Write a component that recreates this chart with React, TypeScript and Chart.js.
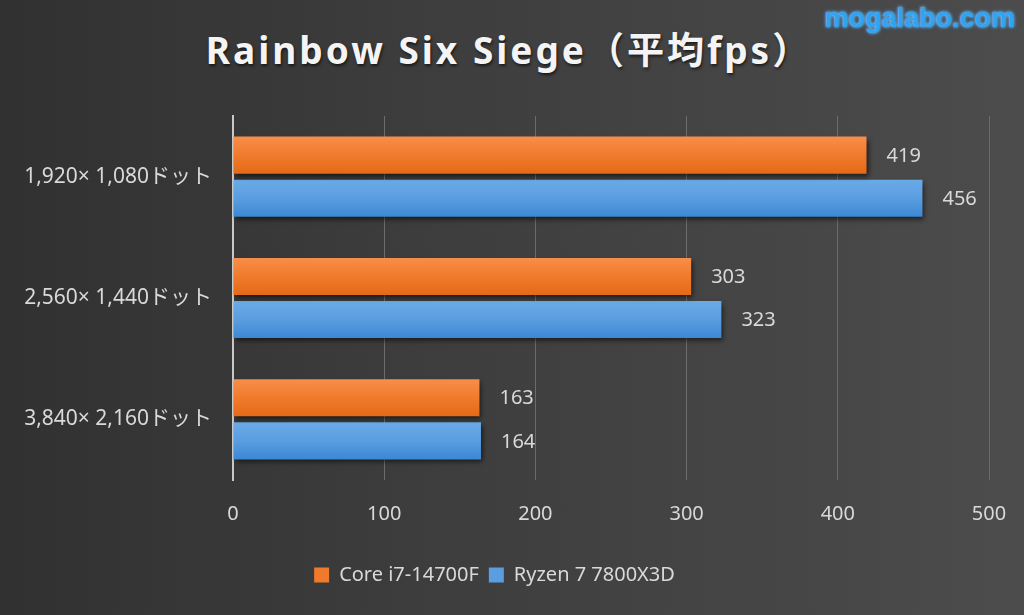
import React, { useEffect, useRef } from "react";
import { Chart, registerables } from "chart.js";

Chart.register(...registerables);

const categories = ["1,920× 1,080ドット", "2,560× 1,440ドット", "3,840× 2,160ドット"];
const seriesNames = ["Core i7-14700F", "Ryzen 7 7800X3D"];
const coreValues = [419, 303, 163];
const ryzenValues = [456, 323, 164];
const xTicks = [0, 100, 200, 300, 400, 500];

const FONT = "'Noto Sans', 'Noto Sans CJK JP', sans-serif";
const CAT_PCT = 0.71;
const BAR_PCT = 0.86;

const barGradient = (top: string, bottom: string, mid: string) => (ctx: any) => {
  const chart = ctx.chart;
  const yScale = chart.scales?.y;
  if (!chart.chartArea || !yScale || ctx.dataIndex === undefined) return mid;
  const center = yScale.getPixelForValue(ctx.dataIndex);
  const band = yScale.height / categories.length;
  const slot = (band * CAT_PCT) / 2;
  const c = center + (ctx.datasetIndex - 0.5) * slot;
  const h = (slot * BAR_PCT) / 2;
  const g = chart.ctx.createLinearGradient(0, c - h, 0, c + h);
  g.addColorStop(0, top);
  g.addColorStop(0.5, mid);
  g.addColorStop(1, bottom);
  return g;
};

const shadowPlugin = {
  id: "barShadow",
  beforeDatasetsDraw(chart: any) {
    const ctx = chart.ctx;
    ctx.save();
    ctx.shadowColor = "rgba(0,0,0,0.6)";
    ctx.shadowBlur = 5;
    ctx.shadowOffsetX = 2;
    ctx.shadowOffsetY = 3;
  },
  afterDatasetsDraw(chart: any) {
    chart.ctx.restore();
  },
};

const labelPlugin = {
  id: "valueLabels",
  afterDatasetsDraw(chart: any) {
    const ctx = chart.ctx;
    ctx.save();
    ctx.fillStyle = "#d9d9d9";
    ctx.font = `20px ${FONT}`;
    ctx.textAlign = "left";
    ctx.textBaseline = "middle";
    chart.data.datasets.forEach((ds: any, i: number) => {
      const meta = chart.getDatasetMeta(i);
      meta.data.forEach((el: any, j: number) => {
        ctx.fillText(String(ds.data[j]), el.x + 20, el.y + 1);
      });
    });
    ctx.restore();
  },
};

export default function App() {
  const ref = useRef<HTMLCanvasElement | null>(null);

  useEffect(() => {
    if (!ref.current) return;
    const chart = new Chart(ref.current, {
      type: "bar",
      data: {
        labels: categories,
        datasets: [
          {
            label: seriesNames[0],
            data: coreValues,
            backgroundColor: barGradient("#f88e4a", "#e46a18", "#f07a2c"),
            borderWidth: 0,
            categoryPercentage: CAT_PCT,
            barPercentage: BAR_PCT,
          },
          {
            label: seriesNames[1],
            data: ryzenValues,
            backgroundColor: barGradient("#6aaae6", "#3c88d4", "#5a9de0"),
            borderWidth: 0,
            categoryPercentage: CAT_PCT,
            barPercentage: BAR_PCT,
          },
        ],
      },
      plugins: [shadowPlugin, labelPlugin],
      options: {
        indexAxis: "y",
        animation: false,
        responsive: false,
        maintainAspectRatio: false,
        layout: { padding: { top: 116, right: 35, bottom: 20, left: 0 } },
        plugins: {
          title: { display: false },
          tooltip: { enabled: false },
          legend: {
            position: "bottom",
            labels: {
              color: "#d9d9d9",
              font: { size: 20, family: FONT },
              boxWidth: 15,
              boxHeight: 15,
              padding: 10,
              generateLabels: (chart: any) =>
                chart.data.datasets.map((ds: any, i: number) => ({
                  text: ds.label,
                  fillStyle: i === 0 ? "#f07a2c" : "#5a9de0",
                  strokeStyle: "transparent",
                  lineWidth: 0,
                  fontColor: "#d9d9d9",
                  datasetIndex: i,
                  hidden: false,
                })),
            },
          },
        },
        scales: {
          x: {
            min: 0,
            max: 500,
            afterBuildTicks: (scale: any) => {
              scale.ticks = xTicks.map((v) => ({ value: v }));
            },
            afterFit: (scale: any) => {
              scale.height = 75;
              scale.paddingRight = 0;
              scale.paddingLeft = 0;
            },
            grid: { color: "#6c6c6c", lineWidth: 1, drawTicks: false },
            border: { display: false },
            ticks: {
              color: "#d9d9d9",
              font: { size: 20, family: FONT },
              padding: 22,
            },
          },
          y: {
            afterFit: (scale: any) => {
              scale.width = 233;
            },
            grid: { display: false, drawTicks: false },
            border: { display: true, color: "#c8c8c8", width: 2 },
            ticks: {
              color: "#d9d9d9",
              font: { size: 21, family: FONT },
              padding: 21,
            },
          },
        },
      },
    } as any);
    return () => chart.destroy();
  }, []);

  return (
    <div
      style={{
        position: "fixed",
        left: 0,
        top: 0,
        width: 1024,
        height: 615,
        background: "linear-gradient(to right, #313131 0%, #3e3e3e 45%, #4c4c4c 100%)",
        overflow: "hidden",
      }}
    >
      <div
        style={{
          position: "absolute",
          left: 0,
          top: 25,
          width: 1018,
          textAlign: "center",
          color: "#f4f4f4",
          fontFamily: "'Noto Sans', 'Noto Sans CJK JP', sans-serif",
          fontWeight: 700,
          fontSize: 37,
          letterSpacing: 3,
          lineHeight: "50px",
          textShadow: "1px 2px 3px rgba(0,0,0,0.6)",
        }}
      >
        Rainbow Six Siege（平均fps）
      </div>
      <div
        style={{
          position: "absolute",
          right: 9,
          top: 2,
          color: "#2ea4f5",
          fontFamily: "'Liberation Sans', 'DejaVu Sans', sans-serif",
          fontWeight: 700,
          fontSize: 27,
          lineHeight: "32px",
          textShadow: "0 0 3px rgba(180,225,255,0.9), 0 0 5px rgba(40,150,255,0.7)",
        }}
      >
        mogalabo.com
      </div>
      <canvas ref={ref} width={1024} height={615} style={{ position: "absolute", left: 0, top: 0 }} />
    </div>
  );
}
